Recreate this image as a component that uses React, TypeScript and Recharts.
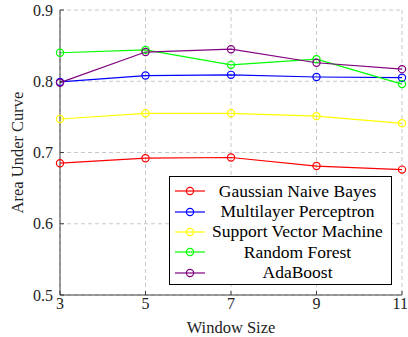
import React from 'react';
import { LineChart, Line, XAxis, YAxis, CartesianGrid, Legend } from 'recharts';

const windowSizes = [3, 5, 7, 9, 11];
const gaussianNB = [0.685, 0.692, 0.693, 0.681, 0.676];
const mlp = [0.799, 0.808, 0.809, 0.806, 0.805];
const svm = [0.747, 0.755, 0.755, 0.751, 0.741];
const randomForest = [0.84, 0.844, 0.823, 0.831, 0.796];
const adaBoost = [0.798, 0.841, 0.845, 0.826, 0.817];

const xTicks = [3, 5, 7, 9, 11];
const yTicks = [0.5, 0.6, 0.7, 0.8, 0.9];

const seriesNames = ['Gaussian Naive Bayes', 'Multilayer Perceptron', 'Support Vector Machine', 'Random Forest', 'AdaBoost'];
const seriesKeys = ['gnb', 'mlp', 'svm', 'rf', 'ada'];
const seriesColors = ['#ff0000', '#0000ff', '#ffff00', '#00ff00', '#800080'];
const seriesValues = [gaussianNB, mlp, svm, randomForest, adaBoost];

const data = windowSizes.map((w, i) => {
  const row: Record<string, number> = { w };
  seriesKeys.forEach((k, j) => {
    row[k] = seriesValues[j][i];
  });
  return row;
});

const FONT = '"Liberation Serif", "Times New Roman", serif';
const AXIS = '#404040';

const LegendBox = () => (
  <div
    style={{
      width: 223,
      height: 109,
      boxSizing: 'border-box',
      border: '1px solid #000',
      background: '#fff',
      fontFamily: FONT,
      fontSize: 17.5,
      color: '#000',
      paddingTop: 4,
    }}
  >
    {seriesNames.map((n, i) => (
      <div key={n} style={{ display: 'flex', alignItems: 'center', height: 20.4 }}>
        <svg width={38} height={12} style={{ flex: 'none' }}>
          <line x1={5} x2={35} y1={6} y2={6} stroke={seriesColors[i]} strokeWidth={1.2} />
          <circle cx={20} cy={6} r={3.6} fill="none" stroke={seriesColors[i]} strokeWidth={1.2} />
        </svg>
        <div style={{ flex: 1, textAlign: 'center', whiteSpace: 'nowrap', paddingRight: 4 }}>{n}</div>
      </div>
    ))}
  </div>
);

export default function App() {
  return (
    <div style={{ position: 'absolute', left: 0, top: 0, background: '#fff' }}>
      <LineChart
        width={408}
        height={337}
        data={data}
        margin={{ top: 10, right: 6, left: 0, bottom: 0 }}
        style={{ fontFamily: FONT }}
      >
        <CartesianGrid stroke="#c8c8c8" strokeDasharray="4 3" />
        <XAxis
          dataKey="w"
          type="number"
          domain={[3, 11]}
          ticks={xTicks}
          height={42}
          stroke={AXIS}
          tickSize={-4}
          tickMargin={7}
          tick={{ fill: '#222', fontFamily: FONT, fontSize: 16 }}
          label={{ value: 'Window Size', position: 'insideBottom', offset: 4, style: { fill: '#222', fontFamily: FONT, fontSize: 16.5 } }}
        />
        <XAxis
          xAxisId="top"
          orientation="top"
          dataKey="w"
          type="number"
          domain={[3, 11]}
          ticks={xTicks}
          height={0}
          stroke={AXIS}
          tickSize={-4}
          tickFormatter={() => ''}
        />
        <YAxis
          type="number"
          domain={[0.5, 0.9]}
          ticks={yTicks}
          width={60}
          stroke={AXIS}
          tickSize={-4}
          tickMargin={11}
          tickFormatter={(v: number) => v.toFixed(1)}
          tick={{ fill: '#222', fontFamily: FONT, fontSize: 16 }}
          label={{ value: 'Area Under Curve', angle: -90, position: 'insideLeft', offset: 17, style: { textAnchor: 'middle', fill: '#222', fontFamily: FONT, fontSize: 16.5 } }}
        />
        <YAxis
          yAxisId="right"
          orientation="right"
          type="number"
          domain={[0.5, 0.9]}
          ticks={yTicks}
          width={0}
          stroke={AXIS}
          tickSize={-4}
          tickFormatter={() => ''}
        />
        {seriesKeys.map((k, i) => (
          <Line
            key={k}
            dataKey={k}
            name={seriesNames[i]}
            stroke={seriesColors[i]}
            strokeWidth={1.2}
            dot={{ r: 3.6, fill: 'none', stroke: seriesColors[i], strokeWidth: 1.2 }}
            activeDot={false}
            isAnimationActive={false}
          />
        ))}
        <Legend
          layout="vertical"
          align="center"
          verticalAlign="middle"
          content={() => <LegendBox />}
          wrapperStyle={{ left: 169, top: 176, width: 223, height: 109 }}
        />
      </LineChart>
    </div>
  );
}
